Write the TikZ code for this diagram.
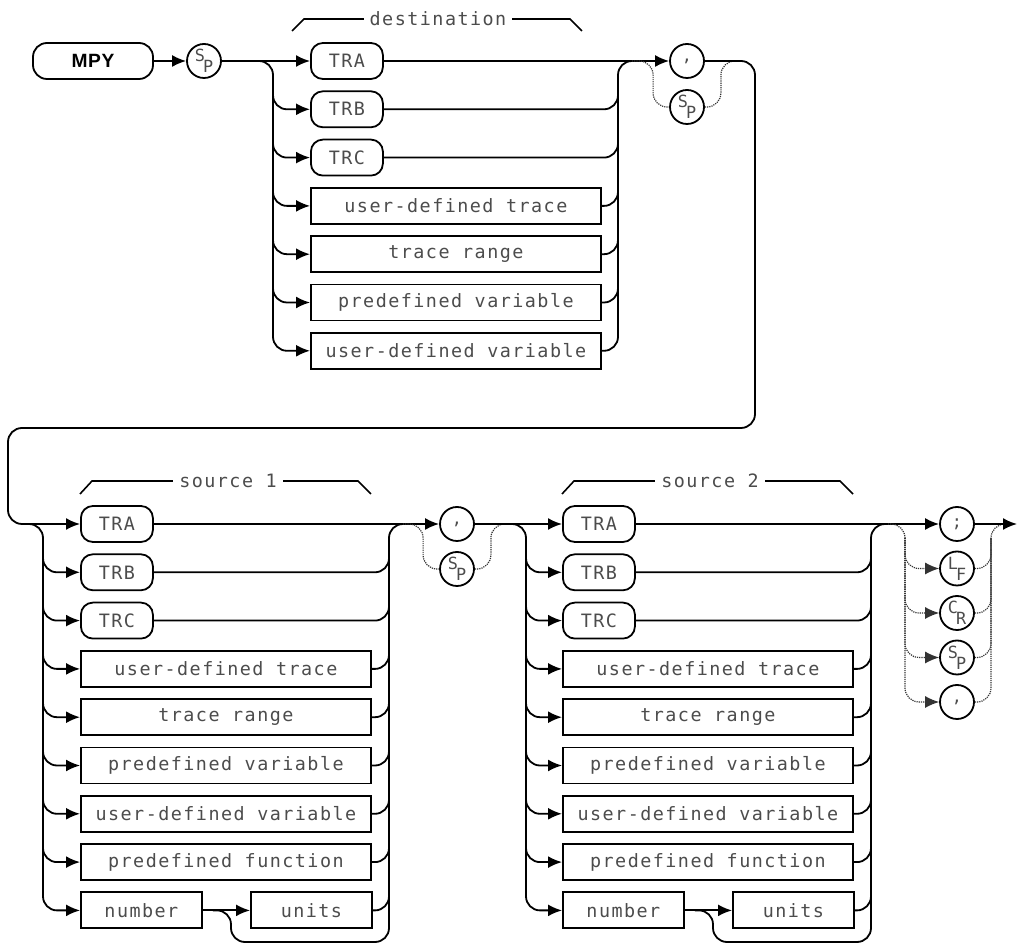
\documentclass[tikz,border=0pt]{standalone}
\usepackage{fontspec}
\newfontfamily\plotfont{DejaVu Sans Mono}[LetterSpace=8]
\newfontfamily\keyfont{Liberation Sans}[LetterSpace=3]
\usetikzlibrary{arrows.meta,positioning,calc}

\newcommand\twolet[2]{\raisebox{2.8pt}{#1}\kern-0.9pt\raisebox{-2.8pt}{#2}}

\begin{document}
\begin{tikzpicture}[
  x=0.5pt, y=-0.5pt,
  node distance=5.25pt,
  font=\plotfont\fontsize{9.2}{10}\selectfont,
  kw/.style={draw, line width=0.9pt, rounded corners=6pt,
    minimum width=36pt, minimum height=18pt, inner sep=0pt, text=black!70},
  param/.style={draw, line width=0.9pt, minimum width=145pt,
    minimum height=18pt, inner sep=0pt, text=black!70},
  sym/.style={draw, circle, line width=0.9pt, minimum size=17pt,
    inner sep=0pt, text=black!70, font=\plotfont\fontsize{8.4}{8}\selectfont},
  under/.style={below=of #1.south west, anchor=north west},
  rail/.style={line width=0.9pt, rounded corners=7pt},
  flow/.style={rail, -{Latex[length=7pt,width=6pt]}},
  opt/.style={line width=0.6pt, black!80, dash pattern=on 0.6pt off 0.5pt,
    rounded corners=7pt},
  optflow/.style={opt, -{Latex[length=7pt,width=6pt]}},
  tag/.style={fill=white, inner xsep=3pt, inner ysep=1pt, text=black!70},
  brk/.style={line width=0.8pt}
]
\useasboundingbox (0,0) rectangle (1018,945);

% command and destination
\node[kw, minimum width=60pt, rounded corners=7pt, text=black,
  font=\keyfont\bfseries\fontsize{9.6}{10}\selectfont] (mpy) at (93,61) {MPY};
\node[sym, right=16.1pt of mpy] (sp0) {\twolet{S}{P}};
\node[kw, anchor=west] (dTRA) at (310,61) {TRA};
\node[kw, under=dTRA] (dTRB) {TRB};
\node[kw, under=dTRB] (dTRC) {TRC};
\node[param, under=dTRC] (dudt) {user-defined trace};
\node[param, under=dudt] (drng) {trace range};
\node[param, under=drng] (dpvar) {predefined variable};
\node[param, under=dpvar] (duvar) {user-defined variable};
\node[sym] (dcom) at (687,61) {,};
\node[sym] (dsp) at (687,107) {\twolet{S}{P}};
\draw[brk] (292,31) -- (304,19) -- (570,19) -- (582,31);
\node[tag] (dname) at (438,19) {destination};
\coordinate (dL) at (273,61);
\coordinate (dR) at (618,61);
\coordinate (loopR) at (755,428);
\coordinate (loopL) at (8,428);

\draw[flow] (mpy) -- (sp0);
\draw[flow] (sp0) -- (dTRA);
\draw[rail] ($(dL)+(-18,0)$) -| ($(dL)+(0,14)$);
\foreach \r in {dTRB,dTRC,dudt,drng,dpvar,duvar}
  \draw[flow] ($(dL)+(0,14)$) |- (\r.west);
\draw[rail] (dTRB.east) -| (dR) -- ($(dR)+(22,0)$);
\foreach \r in {dTRC,dudt,drng,dpvar,duvar}
  \draw[rail] (\r.east) -| ($(dR)+(0,14)$);
\draw[flow] (dTRA) -- (dcom);
\draw[opt] ($(dR)+(14,0)$) -| ($(dsp.west)+(-16,0)$) -- (dsp.west);
\draw[opt] (dsp.east) -- ($(dsp.east)+(16,0)$) |- ($(dcom.east)+(36,0)$);

% source 1
\node[kw, anchor=west] (s1TRA) at (80,524) {TRA};
\node[kw, under=s1TRA] (s1TRB) {TRB};
\node[kw, under=s1TRB] (s1TRC) {TRC};
\node[param, under=s1TRC] (s1udt) {user-defined trace};
\node[param, under=s1udt] (s1rng) {trace range};
\node[param, under=s1rng] (s1pvar) {predefined variable};
\node[param, under=s1pvar] (s1uvar) {user-defined variable};
\node[param, under=s1uvar] (s1pfun) {predefined function};
\node[param, under=s1pfun, minimum width=60.5pt] (s1num) {number};
\node[param, right=23.6pt of s1num, minimum width=60.5pt] (s1unit) {units};
\draw[brk] (80,494) -- (92,481) -- (358,481) -- (371,494);
\node[tag] (s1name) at (228,481) {source 1};
\coordinate (s1L) at (43,524);
\coordinate (s1R) at (389,524);
\coordinate (s1dip) at (231,942);

\draw[flow] (dcom) -| (loopR) -- (loopL) |- (s1TRA.west);
\draw[rail] ($(s1L)+(-18,0)$) -| ($(s1L)+(0,14)$);
\foreach \r in {s1TRB,s1TRC,s1udt,s1rng,s1pvar,s1uvar,s1pfun,s1num}
  \draw[flow] ($(s1L)+(0,14)$) |- (\r.west);
\draw[rail] (s1TRB.east) -| (s1R) -- ($(s1R)+(22,0)$);
\foreach \r in {s1TRC,s1udt,s1rng,s1pvar,s1uvar,s1pfun,s1unit}
  \draw[rail] (\r.east) -| ($(s1R)+(0,14)$);
\draw[flow] (s1num) -- (s1unit);
\draw[rail] ($(s1num.east)+(10,0)$) -| (s1dip) -| ($(s1R)+(0,14)$);

% separator between sources
\node[sym] (mcom) at (457,524) {,};
\node[sym] (msp) at (457,569) {\twolet{S}{P}};
\draw[flow] (s1TRA) -- (mcom);
\draw[opt] ($(s1R)+(14,0)$) -| ($(msp.west)+(-16,0)$) -- (msp.west);
\draw[opt] (msp.east) -- ($(msp.east)+(16,0)$) |- ($(mcom.east)+(36,0)$);

% source 2
\node[kw, anchor=west] (s2TRA) at (562,524) {TRA};
\node[kw, under=s2TRA] (s2TRB) {TRB};
\node[kw, under=s2TRB] (s2TRC) {TRC};
\node[param, under=s2TRC] (s2udt) {user-defined trace};
\node[param, under=s2udt] (s2rng) {trace range};
\node[param, under=s2rng] (s2pvar) {predefined variable};
\node[param, under=s2pvar] (s2uvar) {user-defined variable};
\node[param, under=s2uvar] (s2pfun) {predefined function};
\node[param, under=s2pfun, minimum width=60.5pt] (s2num) {number};
\node[param, right=23.6pt of s2num, minimum width=60.5pt] (s2unit) {units};
\draw[brk] (562,494) -- (574,481) -- (840,481) -- (853,494);
\node[tag] (s2name) at (710,481) {source 2};
\coordinate (s2L) at (526,524);
\coordinate (s2R) at (871,524);
\coordinate (s2dip) at (713,942);

\draw[flow] (mcom) -- (s2TRA);
\draw[rail] ($(s2L)+(-18,0)$) -| ($(s2L)+(0,14)$);
\foreach \r in {s2TRB,s2TRC,s2udt,s2rng,s2pvar,s2uvar,s2pfun,s2num}
  \draw[flow] ($(s2L)+(0,14)$) |- (\r.west);
\draw[rail] (s2TRB.east) -| (s2R) -- ($(s2R)+(22,0)$);
\foreach \r in {s2TRC,s2udt,s2rng,s2pvar,s2uvar,s2pfun,s2unit}
  \draw[rail] (\r.east) -| ($(s2R)+(0,14)$);
\draw[flow] (s2num) -- (s2unit);
\draw[rail] ($(s2num.east)+(10,0)$) -| (s2dip) -| ($(s2R)+(0,14)$);

% terminators
\node[sym] (tsc) at (957,524) {;};
\node[sym, below=4.35pt of tsc] (tlf) {\twolet{L}{F}};
\node[sym, below=4.35pt of tlf] (tcr) {\twolet{C}{R}};
\node[sym, below=4.35pt of tcr] (tsp) {\twolet{S}{P}};
\node[sym, below=4.35pt of tsp] (tcm) {,};
\coordinate (tL) at (905,524);
\coordinate (tR) at (991,524);
\coordinate (tEnd) at (1017,524);

\draw[flow] (s2TRA) -- (tsc);
\draw[opt] ($(tL)+(-17,0)$) -| ($(tL)+(0,14)$);
\foreach \r in {tlf,tcr,tsp,tcm}
  \draw[optflow] ($(tL)+(0,14)$) |- (\r.west);
\draw[opt] (tlf.east) -| (tR) -- ($(tR)+(16,0)$);
\foreach \r in {tcr,tsp,tcm}
  \draw[opt] (\r.east) -| ($(tR)+(0,14)$);
\draw[flow] (tsc) -- (tEnd);
\end{tikzpicture}
\end{document}
